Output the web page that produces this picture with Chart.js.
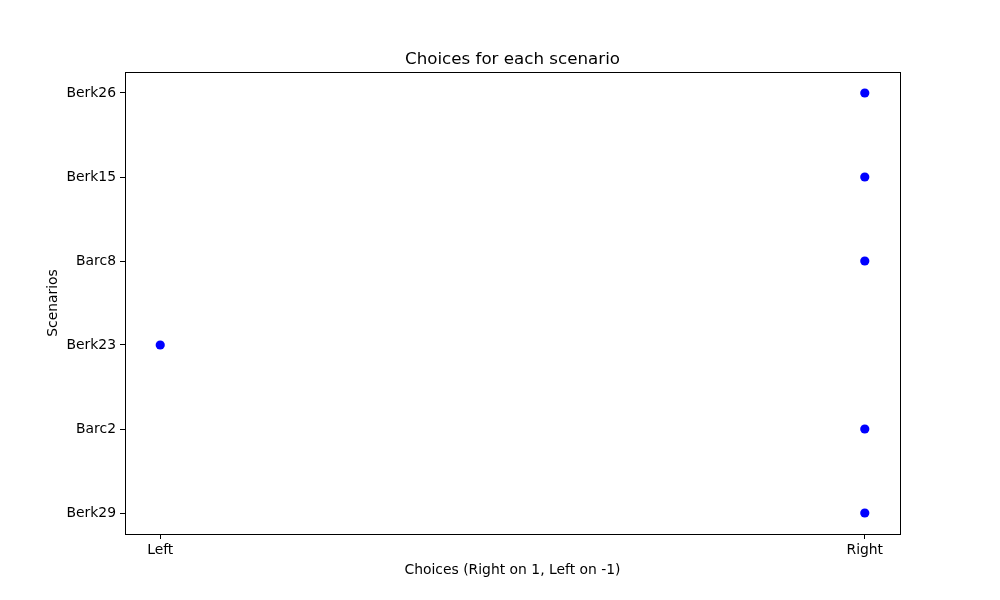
<!DOCTYPE html>
<html>
<head>
<meta charset="utf-8">
<script src="https://cdn.jsdelivr.net/npm/chart.js@4/dist/chart.umd.min.js"></script>
<style>
html,body{margin:0;padding:0;background:#fff;}
canvas{display:block;}
</style>
</head>
<body>
<canvas id="c" width="1000" height="600"></canvas>
<script>
const scenarios = ['Berk29', 'Barc2', 'Berk23', 'Barc8', 'Berk15', 'Berk26'];
const choices = [1, 1, -1, 1, 1, 1];
const xTickValues = [-1, 1];
const xTickLabels = ['Left', 'Right'];

const points = scenarios.map((s, i) => ({x: choices[i], y: i}));
const FONT = "'DejaVu Sans', sans-serif";

const framePlugin = {
  id: 'frame',
  afterDraw(chart) {
    const a = chart.chartArea, ctx = chart.ctx;
    ctx.save();
    ctx.strokeStyle = '#000';
    ctx.lineWidth = 1;
    ctx.strokeRect(Math.round(a.left) + 0.5, Math.round(a.top) + 0.5,
                   Math.round(a.right - a.left), Math.round(a.bottom - a.top));
    ctx.restore();
  }
};

new Chart(document.getElementById('c'), {
  type: 'scatter',
  data: {
    datasets: [{
      data: points,
      backgroundColor: '#0000ff',
      borderColor: '#0000ff',
      pointRadius: 4.6,
      pointHoverRadius: 4.6,
      borderWidth: 0
    }]
  },
  options: {
    responsive: false,
    animation: false,
    layout: {padding: {left: 0, right: 100, top: 0, bottom: 0}},
    plugins: {
      legend: {display: false},
      tooltip: {enabled: false},
      title: {display: false}
    },
    scales: {
      x: {
        type: 'linear',
        min: -1.1,
        max: 1.1,
        afterBuildTicks(scale) { scale.ticks = xTickValues.map(v => ({value: v})); },
        afterFit(scale) { scale.height = 66; },
        ticks: {
          color: '#000',
          font: {family: FONT, size: 13.9},
          padding: 3,
          maxRotation: 0,
          autoSkip: false,
          callback: (v) => xTickLabels[xTickValues.indexOf(v)]
        },
        grid: {drawOnChartArea: false, drawTicks: true, tickLength: 5, tickColor: '#000'},
        border: {display: true, color: '#000'},
        title: {
          display: true,
          text: 'Choices (Right on 1, Left on -1)',
          color: '#000',
          font: {family: FONT, size: 13.9},
          padding: {top: 0, bottom: 21}
        }
      },
      x2: {
        type: 'linear',
        position: 'top',
        min: -1.1,
        max: 1.1,
        afterFit(scale) { scale.height = 72; },
        ticks: {display: false},
        grid: {drawOnChartArea: false, drawTicks: false},
        border: {display: true, color: '#000'},
        title: {
          display: true,
          text: 'Choices for each scenario',
          color: '#000',
          font: {family: FONT, size: 16.7, weight: 'normal'},
          padding: {top: 50, bottom: 0}
        }
      },
      y: {
        type: 'linear',
        min: -0.25,
        max: 5.25,
        afterBuildTicks(scale) { scale.ticks = scenarios.map((s, i) => ({value: i})); },
        afterFit(scale) { scale.width = 125; },
        ticks: {
          color: '#000',
          font: {family: FONT, size: 13.9},
          padding: 4,
          autoSkip: false,
          callback: (v) => scenarios[v]
        },
        grid: {drawOnChartArea: false, drawTicks: true, tickLength: 5, tickColor: '#000'},
        border: {display: true, color: '#000'},
        title: {
          display: true,
          text: 'Scenarios',
          color: '#000',
          font: {family: FONT, size: 13.9},
          padding: {top: 45, bottom: 0}
        }
      }
    }
  },
  plugins: [framePlugin]
});
</script>
</body>
</html>
